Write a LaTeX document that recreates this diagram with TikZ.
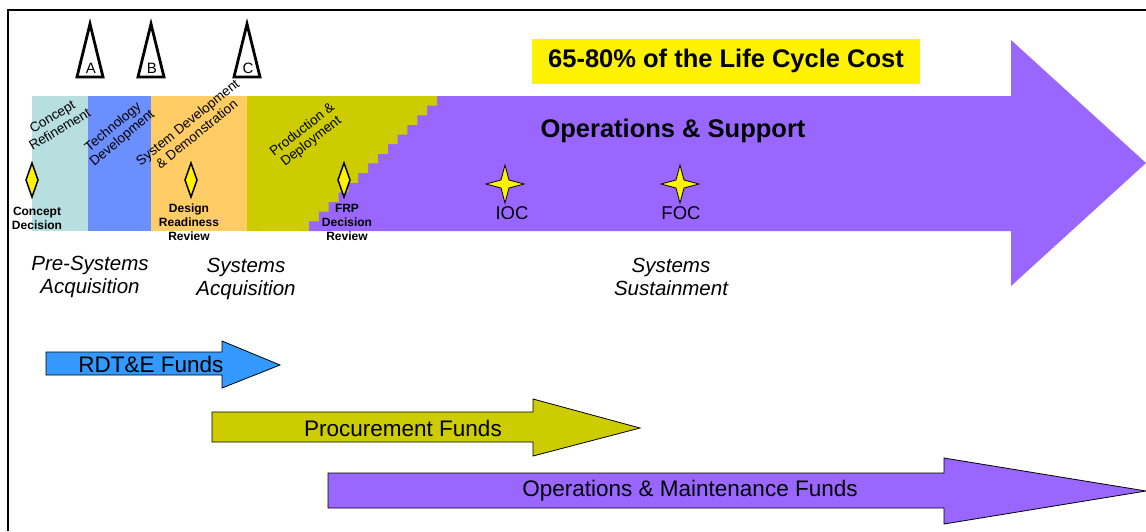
\documentclass[tikz,border=0pt]{standalone}
\usepackage{fontspec}
\setmainfont{Liberation Sans}
\definecolor{opsviolet}{HTML}{9966FF}
\definecolor{crblue}{HTML}{B8DFE0}
\definecolor{tdblue}{HTML}{6B8FFF}
\definecolor{sddorange}{HTML}{FFCC66}
\definecolor{pdolive}{HTML}{CCCC00}
\definecolor{rdteblue}{HTML}{3399FF}

\begin{document}
\begin{tikzpicture}[x=1pt,y=-1pt,
	phase/.style={align=center,inner sep=0pt,font=\fontsize{13.5}{14.5}\selectfont},
	decision/.style={fill=yellow,draw=black,line width=1.5pt},
	mslabel/.style={align=center,inner sep=0pt,font=\bfseries\fontsize{12}{14}\selectfont},
	era/.style={align=center,font=\itshape\fontsize{20.5}{23}\selectfont},
	fund/.style={draw=black,line width=0.8pt},
	fundtext/.style={font=\fontsize{22.5}{24}\selectfont},
	milestone/.style={draw=black,line width=2.8pt,fill=white},
	bigtext/.style={font=\bfseries\fontsize{25.5}{28}\selectfont}]
	\useasboundingbox (0,0) rectangle (1146,531);
	%frame
	\draw[line width=2pt] (8,531) -- (8,10) -- (1146,10);
	
	%operations and support arrow
	\fill[opsviolet] (300,96) -- (1011,96) -- (1011,40) -- (1146,163) -- (1011,286) -- (1011,231) -- (300,231) -- cycle;
	\fill[crblue] (32,96) rectangle (88,231);
	\fill[tdblue] (88,96) rectangle (151,231);
	\fill[sddorange] (151,96) rectangle (247,231);
	\fill[pdolive] (247,96) -- (437,96) \foreach \i in {1,...,13} { -- ++(0,9.64) -- ++(-9.85,0) } -- ++(0,9.64) -- (247,231) -- cycle;
	
	\node[phase,rotate=31] (cr) at (56,123) {Concept\\Refinement};
	\node[phase,rotate=40] (td) at (118,133) {Technology\\Development};
	\node[phase,rotate=39] (sdd) at (192,128) {System Development\\\& Demonstration};
	\node[phase,rotate=38] (pd) at (307,136) {Production \&\\Deployment};
	
	%milestones
	\foreach \x/\m in {90/A,151/B,247/C} {
		\draw[milestone] (\x,24) -- (\x+13,77) -- (\x-13,77) -- cycle;
		\node[font=\fontsize{15}{16}\selectfont,inner sep=0pt] (ms\m) at (\x+1,68) {\m};
	}
	
	%decision points
	\foreach \x in {32,191,344}
		\filldraw[decision] (\x,163) -- ++(6,17) -- ++(-6,17) -- ++(-6,-17) -- cycle;
	\node[mslabel] (cd) at (37,218) {Concept\\Decision};
	\node[mslabel] (drr) at (189,222) {Design\\Readiness\\Review};
	\node[mslabel] (frp) at (347,222) {FRP\\Decision\\Review};
	
	\foreach \x in {505,680}
		\filldraw[fill=yellow,draw=black,line width=0.8pt] (\x,165) -- (\x+4,180) -- (\x+19,184) -- (\x+4,188) -- (\x,203) -- (\x-4,188) -- (\x-19,184) -- (\x-4,180) -- cycle;
	\node[font=\fontsize{18.5}{20}\selectfont] (ioc) at (512,213) {IOC};
	\node[font=\fontsize{18.5}{20}\selectfont] (foc) at (681,213) {FOC};
	
	\node[bigtext,fill=yellow,minimum width=388pt,minimum height=45pt] (lcc) at (726,61) {65-80\% of the Life Cycle Cost};
	\node[bigtext] (os) at (673,131) {Operations \& Support};
	
	\node[era] (pre) at (90,277) {Pre-Systems\\Acquisition};
	\node[era] (sa) at (246,279) {Systems\\Acquisition};
	\node[era] (ss) at (671,277) {Systems\\Sustainment};
	
	%funds
	\filldraw[fund,fill=rdteblue] (46,352) -- (222,352) -- (222,341) -- (280,365) -- (222,388) -- (222,375) -- (46,375) -- cycle;
	\node[fundtext] (rdte) at (151,364) {RDT\&E Funds};
	\filldraw[fund,fill=pdolive] (212,412) -- (533,412) -- (533,399) -- (640,428) -- (533,456) -- (533,442) -- (212,442) -- cycle;
	\node[fundtext] (proc) at (403,428) {Procurement Funds};
	\filldraw[fund,fill=opsviolet] (328,473) -- (944,473) -- (944,458) -- (1146,491) -- (944,524) -- (944,508) -- (328,508) -- cycle;
	\node[fundtext] (om) at (690,491) {Operations \& Maintenance Funds};
\end{tikzpicture}
\end{document}
